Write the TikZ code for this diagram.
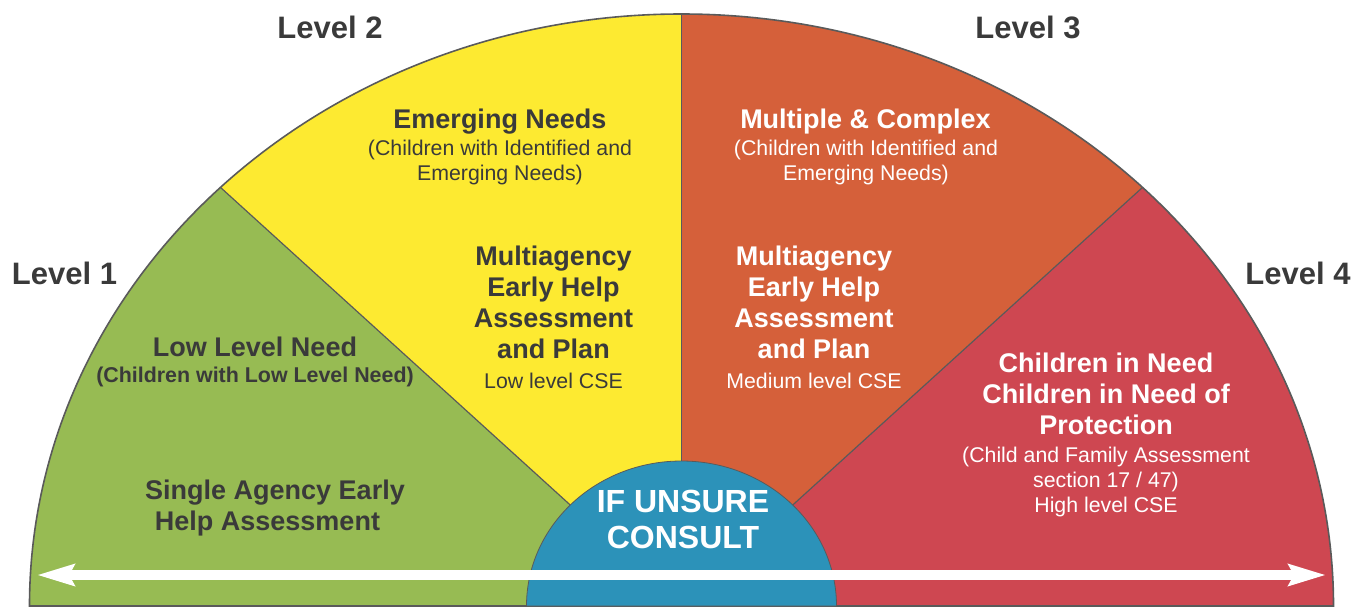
\documentclass[tikz,border=0pt]{standalone}
\usepackage{fontspec}
\setmainfont{Liberation Sans}
\usetikzlibrary{arrows.meta}
\definecolor{lvgreen}{HTML}{97BB53}
\definecolor{lvyellow}{HTML}{FDEA31}
\definecolor{lvorange}{HTML}{D5603A}
\definecolor{lvred}{HTML}{CE4751}
\definecolor{lvblue}{HTML}{2C92B9}
\definecolor{txt}{HTML}{3A3A3A}
\definecolor{rim}{HTML}{5A5A5A}
\begin{document}
\begin{tikzpicture}[x=1pt,y=-1pt,
  every node/.style={inner sep=0pt,anchor=base},
  lvl/.style={font=\fontsize{31}{37}\selectfont\bfseries,text=txt},
  head/.style={font=\fontsize{27}{31}\selectfont\bfseries},
  sub/.style={font=\fontsize{21.3}{25}\selectfont},
  subb/.style={font=\fontsize{21.4}{25}\selectfont\bfseries},
  sector/.style={draw=none},
  divider/.style={draw=rim,line width=1.2pt},
  outer/.style={x radius=652pt,y radius=592pt},
  inner/.style={x radius=155pt,y radius=145pt}]
\useasboundingbox (0,0) rectangle (1363,606);
\coordinate (C) at (681.5,606);

% four coloured sectors of the half ellipse
\fill[lvgreen]  (C) -- ++(180:652pt and 592pt) arc[start angle=180,end angle=135,outer] -- cycle;
\fill[lvyellow] (C) -- ++(135:652pt and 592pt) arc[start angle=135,end angle=90,outer] -- cycle;
\fill[lvorange] (C) -- ++(90:652pt and 592pt)  arc[start angle=90,end angle=45,outer] -- cycle;
\fill[lvred]    (C) -- ++(45:652pt and 592pt)  arc[start angle=45,end angle=0,outer] -- cycle;

% dividers between the levels
\foreach \a in {135,90,45}
  \draw[divider] (C) -- ++(\a:652pt and 592pt);

% rim of the half ellipse
\draw[rim,line width=1.6pt] (C) ++(0:652pt and 592pt)
  arc[start angle=0,end angle=180,outer] -- cycle;

% central consult disc
\filldraw[fill=lvblue,draw=rim,line width=0.8pt] (C) ++(0:155pt and 145pt)
  arc[start angle=0,end angle=180,inner] -- cycle;

% double arrow along the base
\coordinate (AL) at (37,575);
\coordinate (AR) at (1326,575);
\draw[white,line width=10pt,{Stealth[length=37pt,width=21pt,inset=5pt]}-{Stealth[length=37pt,width=21pt,inset=5pt]}] (AL) -- (AR);

% level labels
\node[lvl] (l1) at (64.5,284) {Level 1};
\node[lvl] (l2) at (330,38) {Level 2};
\node[lvl] (l3) at (1028,38) {Level 3};
\node[lvl] (l4) at (1298,284) {Level 4};

% level 1
\node[head,text=txt] (g1) at (255,356) {Low Level Need};
\node[subb,text=txt] (g2) at (255,382) {(Children with Low Level Need)};
\node[head,text=txt] (g3) at (275,499) {Single Agency Early};
\node[head,text=txt] (g4) at (267.5,530) {Help Assessment};

% level 2
\node[head,text=txt] (y1) at (500,128) {Emerging Needs};
\node[sub,text=txt]  (y2) at (500,155) {(Children with Identified and};
\node[sub,text=txt]  (y3) at (500,180) {Emerging Needs)};
\node[head,text=txt] (y4) at (553.5,265) {Multiagency};
\node[head,text=txt] (y5) at (553.5,296) {Early Help};
\node[head,text=txt] (y6) at (553.5,327) {Assessment};
\node[head,text=txt] (y7) at (553.5,358) {and Plan};
\node[sub,text=txt]  (y8) at (553.5,388) {Low level CSE};

% level 3
\node[head,text=white] (o1) at (865.5,128) {Multiple \& Complex};
\node[sub,text=white]  (o2) at (866,155) {(Children with Identified and};
\node[sub,text=white]  (o3) at (866,180) {Emerging Needs)};
\node[head,text=white] (o4) at (814,265) {Multiagency};
\node[head,text=white] (o5) at (814,296) {Early Help};
\node[head,text=white] (o6) at (814,327) {Assessment};
\node[head,text=white] (o7) at (814,358) {and Plan};
\node[sub,text=white]  (o8) at (814,388) {Medium level CSE};

% level 4
\node[head,text=white] (r1) at (1106,372) {Children in Need};
\node[head,text=white] (r2) at (1106,403) {Children in Need of};
\node[head,text=white] (r3) at (1106,434) {Protection};
\node[sub,text=white]  (r4) at (1106,462) {(Child and Family Assessment};
\node[sub,text=white]  (r5) at (1106,487) {section 17 / 47)};
\node[sub,text=white]  (r6) at (1106,512) {High level CSE};

% consult disc text
\node[font=\fontsize{32}{38}\selectfont\bfseries,text=white] (b1) at (683,512) {IF UNSURE};
\node[font=\fontsize{32}{38}\selectfont\bfseries,text=white] (b2) at (683,548) {CONSULT};
\end{tikzpicture}
\end{document}
